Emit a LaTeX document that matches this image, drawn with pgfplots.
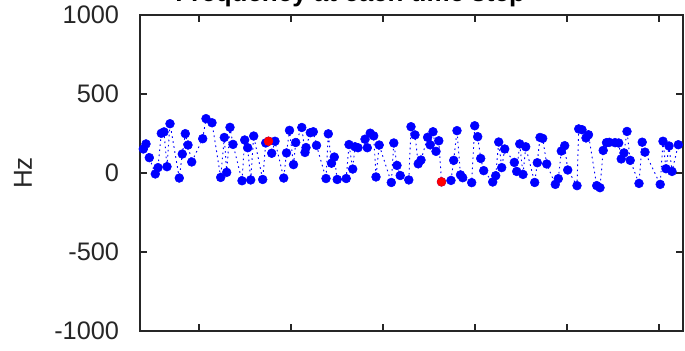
\documentclass[border=0pt]{standalone}
\usepackage{fontspec}
\setmainfont{Liberation Sans}
\usepackage{pgfplots}
\pgfplotsset{compat=1.18}
\usepackage{pgfplotstable}
\pgfplotstableread{
x y
143.3 152
146.0 184
149.3 97
155.3 -6
158.0 34
161.3 251
164.0 260
167.0 40
170.0 312
179.3 -32
182.3 120
185.3 249
188.0 177
191.7 70
202.7 217
206.0 344
212.0 318
220.7 -28
224.3 225
226.7 4
230.0 289
233.0 181
242.0 -49
244.7 209
247.7 160
250.7 -44
253.7 234
262.7 -41
265.7 190
268.5 201
271.7 125
275.0 201
283.7 -32
286.5 127
289.5 270
293.5 53
295.7 193
301.8 288
305.0 130
306.0 161
310.3 255
313.3 261
316.5 175
326.0 -35
328.3 248
331.5 62
334.3 101
337.2 -41
346.2 -35
349.0 180
352.7 25
355.0 166
358.0 160
365.0 214
367.3 160
370.2 252
373.7 235
376.0 -25
379.2 177
391.3 -60
393.8 190
397.0 48
400.2 -16
408.8 -44
411.0 293
415.0 241
418.2 58
421.0 82
427.6 226
430.2 178
433.0 261
436.0 137
438.8 204
441.5 -56
451.0 -47
453.7 80
457.0 268
460.5 -12
462.7 -30
471.7 -61
474.7 299
477.7 230
480.7 92
483.7 15
492.7 -57
495.7 -17
498.7 196
501.7 34
504.7 152
514.3 67
516.7 10
519.7 184
523.0 -9
525.7 166
534.7 -60
537.3 65
540.0 225
542.7 219
546.7 57
555.3 -72
558.3 -36
561.3 139
564.7 173
567.7 19
577.0 -80
578.7 279
582.0 274
586.0 222
588.5 242
596.7 -80
600.0 -93
603.2 143
606.5 192
609.3 194
615.0 192
618.7 190
621.2 89
624.0 127
627.0 263
630.2 80
639.0 -66
642.2 195
645.0 132
660.2 -72
663.0 201
666.0 27
669.0 171
672.0 10
678.3 179
}\blue
\pgfplotstableread{
x y
268.5 201
441.5 -56
}\red
\definecolor{axgray}{HTML}{262626}
\begin{document}
\begin{tikzpicture}
\begin{axis}[
  at={(105pt,14.25pt)}, anchor=south west,
  scale only axis, width=407.25pt, height=237pt,
  xmin=140, xmax=683, ymin=-1000, ymax=1000,
  xtick={199,291,383,475,567,659}, xticklabels={},
  ytick={-1000,-500,0,500,1000},
  tick align=inside, major tick length=5pt,
  axis line style={axgray, line width=0.8pt},
  every tick/.style={axgray, line width=0.8pt},
  /pgf/number format/assume math mode=true,
  /pgf/number format/1000 sep={},
  yticklabel style={font=\fontsize{19}{22}\selectfont, text=axgray, inner sep=0pt, xshift=-15.5pt},
  ylabel={Hz},
  ylabel style={font=\fontsize{19.5}{22}\selectfont, text=axgray, at={(axis description cs:-0.2155,0.5)}, anchor=center, rotate=0},
  clip=false,
]
\addplot[blue, line width=0.7pt, dash pattern=on 1.2pt off 2.6pt] table {\blue};
\addplot[only marks, mark=*, mark size=3.3pt, blue, mark options={draw=blue, fill=blue}] table {\blue};
\addplot[only marks, mark=*, mark size=3.3pt, red, mark options={draw=red, fill=red}] table {\red};
\node[anchor=base, font=\bfseries\fontsize{19.5}{23}\selectfont, text=black] at (axis description cs:0.387,1.043) {Frequency at each time step};
\end{axis}
\pgfresetboundingbox
\path[use as bounding box] (0,0) rectangle (513.75pt,262.5pt);
\end{tikzpicture}
\end{document}
